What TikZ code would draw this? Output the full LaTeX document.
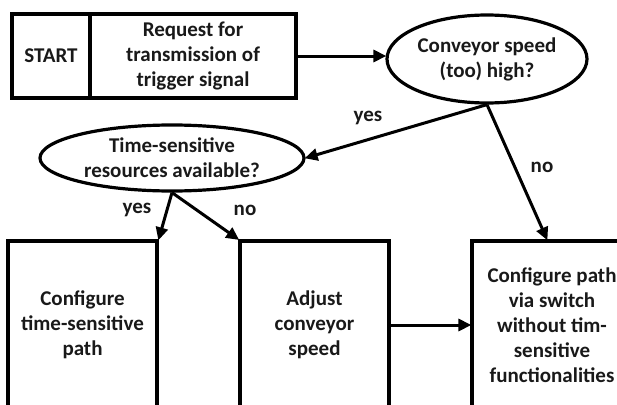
\documentclass[tikz,border=0pt]{standalone}
\usepackage{fontspec}
\setmainfont{Carlito}
\usetikzlibrary{shapes.geometric,arrows.meta,calc}
\begin{document}
\begin{tikzpicture}[x=1pt,y=-1pt,
  every node/.style={font=\bfseries\fontsize{21}{25}\selectfont, text=black!90},
  boxnode/.style={draw=black, line width=3.2pt, rectangle, inner sep=0pt, align=center},
  ellnode/.style={draw=black, line width=3.2pt, ellipse, inner sep=0pt, align=center},
  conn/.style={line width=3pt, -{Triangle[length=13pt,width=12pt]}, shorten >=-1pt},
  lbl/.style={inner sep=0pt}]
\useasboundingbox (0,0) rectangle (617,404);
\clip (0,0) rectangle (617,404);
\node[boxnode, minimum width=78pt, minimum height=84pt] (start) at (51,56) {START};
\node[boxnode, minimum width=206pt, minimum height=84pt] (req) at (193,56) {Request for\\transmission of\\trigger signal};
\node[ellnode, minimum width=200pt, minimum height=88pt] (e1) at (487,59) {Conveyor speed\\(too) high?};
\node[ellnode, minimum width=264pt, minimum height=66pt] (e2) at (172,158) {Time-sensitive\\resources available?};
\node[boxnode, minimum width=149pt, minimum height=168pt] (lbox) at (82.5,325) {Configure\\time-sensitive\\path};
\node[boxnode, minimum width=149pt, minimum height=168pt] (mbox) at (314.5,325) {Adjust\\conveyor\\speed};
\node[boxnode, minimum width=160pt, minimum height=168pt] (rbox) at (552,325) {Configure path\\via switch\\without tim-\\sensitive\\functionalities};
\coordinate (rtop) at ($(rbox.north)+(-5,0)$);
\draw[conn] (req.east) -- (req.east -| e1.west);
\draw[conn] (e1.south) -- (e2.east);
\draw[conn] (e1.south) -- (rtop);
\draw[conn] (e2.south) -- (lbox.north east);
\draw[conn] (e2.south) -- (mbox.north west);
\draw[conn] (mbox.east) -- (rbox.west);
\node[lbl] (y1) at (368,118) {yes};
\node[lbl] (n1) at (542,167) {no};
\node[lbl] (y2) at (137,210) {yes};
\node[lbl] (n2) at (245,210) {no};
\end{tikzpicture}
\end{document}
